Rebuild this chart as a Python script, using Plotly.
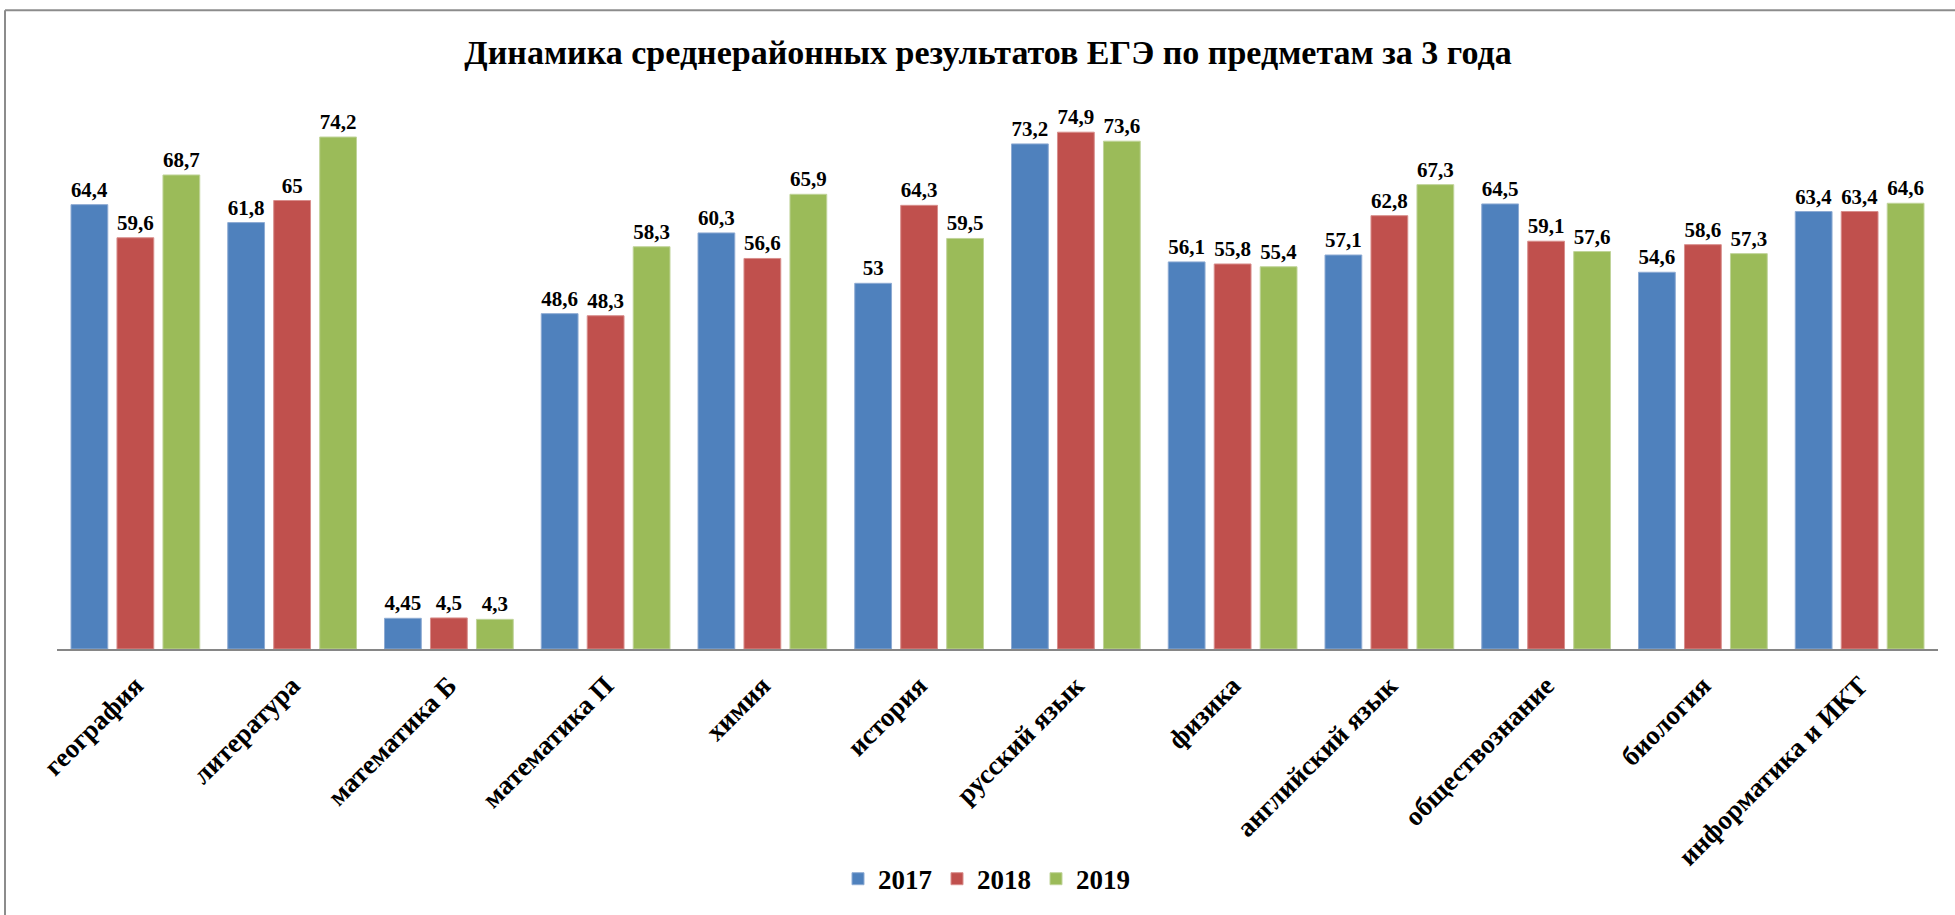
import plotly.graph_objects as go

categories = ["география", "литература", "математика Б", "математика П", "химия", "история",
              "русский язык", "физика", "английский язык", "обществознание", "биология",
              "информатика и ИКТ"]
years = ["2017", "2018", "2019"]
v2017 = [64.4, 61.8, 4.45, 48.6, 60.3, 53, 73.2, 56.1, 57.1, 64.5, 54.6, 63.4]
v2018 = [59.6, 65, 4.5, 48.3, 56.6, 64.3, 74.9, 55.8, 62.8, 59.1, 58.6, 63.4]
v2019 = [68.7, 74.2, 4.3, 58.3, 65.9, 59.5, 73.6, 55.4, 67.3, 57.6, 57.3, 64.6]
series = [v2017, v2018, v2019]
colors = ["#4F81BD", "#C0504D", "#9BBB59"]
edge = ["#8EABD3", "#D88E8C", "#C0D49A"]

def fmt(v):
    return ("%g" % v).replace(".", ",")

FONT = "Liberation Serif, Times New Roman, serif"

fig = go.Figure()
for name, vals, c, e in zip(years, series, colors, edge):
    fig.add_trace(go.Bar(
        x=categories, y=vals, name=name,
        marker=dict(color=c, line=dict(color=e, width=1)),
        text=["<b>%s</b>" % fmt(v) for v in vals], textposition="outside",
        textfont=dict(family=FONT, size=21, color="black"),
        cliponaxis=False,
    ))

W, H = 1955, 915
ml, mr, mt, mb = 57, 17, 97, 264
pw, ph = W - ml - mr, H - mt - mb

def px(x):
    return (x - ml) / pw

def py(y):
    return (H - mb - y) / ph

fig.update_layout(
    width=W, height=H,
    margin=dict(l=ml, r=mr, t=mt, b=mb),
    paper_bgcolor="white", plot_bgcolor="white",
    barmode="group", bargap=0.12, bargroupgap=0.2,
    title=dict(text="<b>Динамика среднерайонных результатов ЕГЭ по предметам за 3 года</b>",
               x=988 / W, xanchor="center", y=1 - 52 / H, yanchor="middle",
               font=dict(family=FONT, size=34, color="black")),
    font=dict(family=FONT, color="black"),
    xaxis=dict(tickangle=-45, tickfont=dict(family=FONT, size=27, color="black"),
               tickvals=categories, ticktext=["<b>%s</b>" % c for c in categories],
               showline=True, linecolor="#868686", linewidth=2, ticks="",
               showgrid=False, ticklabelstandoff=8),
    yaxis=dict(range=[0, 80], visible=False, showgrid=False, zeroline=False),
    legend=dict(orientation="h", x=0.5 - 11 / pw, xanchor="center", y=py(882), yanchor="middle",
                font=dict(family=FONT, size=27, color="black", weight="bold"),
                traceorder="normal"),
    shapes=[
        dict(type="line", xref="paper", yref="paper", x0=px(5), x1=px(1960), y0=py(10), y1=py(10),
             line=dict(color="#8C8C8C", width=2)),
        dict(type="line", xref="paper", yref="paper", x0=px(5), x1=px(5), y0=py(10), y1=py(920),
             line=dict(color="#8C8C8C", width=2)),
    ],
)
fig.write_html("out.html")
